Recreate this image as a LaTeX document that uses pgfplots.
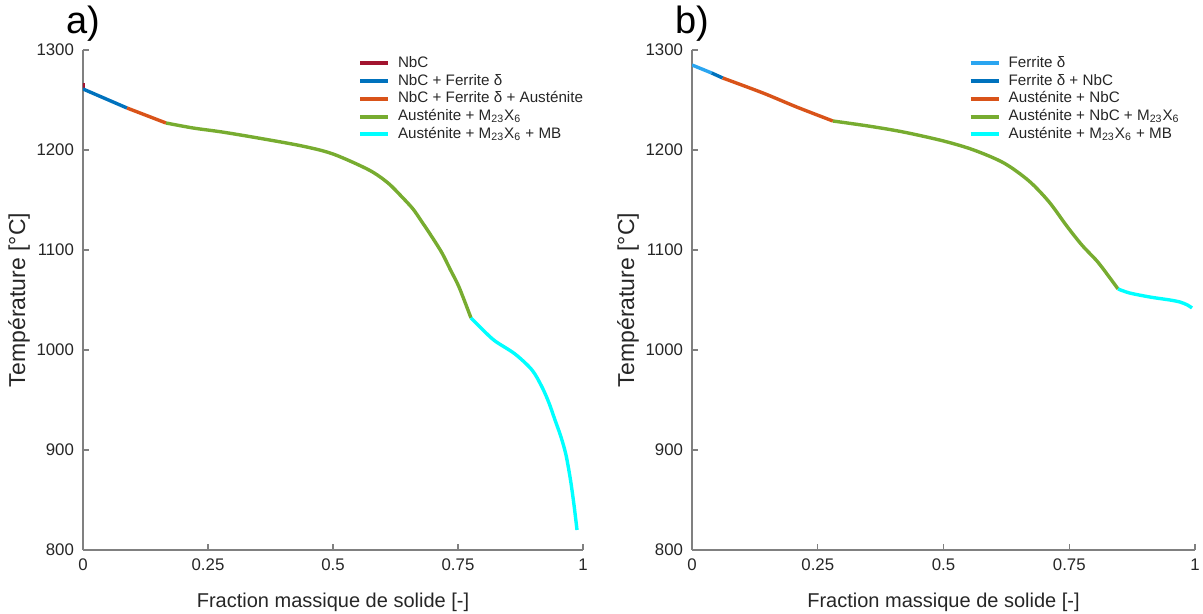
\documentclass[border=0pt]{standalone}
\usepackage{pgfplots}
\pgfplotsset{compat=1.18}
\usepackage{fontspec}
\setmainfont{Liberation Sans}
\definecolor{cNbC}{HTML}{A2142F}
\definecolor{cBlue}{HTML}{0072BD}
\definecolor{cLBlue}{HTML}{2AA5F0}
\definecolor{cOrange}{HTML}{D95319}
\definecolor{cGreen}{HTML}{77AC30}
\definecolor{cCyan}{HTML}{00FFFF}
\definecolor{axgray}{HTML}{808080}
\definecolor{txt}{HTML}{262626}
\pgfplotsset{
  myax/.style={
    scale only axis, width=250pt, height=250pt,
    xmin=0, xmax=1, ymin=800, ymax=1300,
    axis lines=left, axis line style={-, draw=axgray, line width=0.6pt},
    tick align=inside, major tick length=3pt,
    tick style={axgray, line width=0.6pt},
    xtick={0,0.25,0.5,0.75,1}, xticklabels={0,0.25,0.5,0.75,1},
    ytick={800,900,1000,1100,1200,1300},
    yticklabels={800,900,1000,1100,1200,1300},
    /pgf/number format/assume math mode=true,
    /pgf/number format/1000 sep={},
    ticklabel style={font=\fontsize{8.4}{9}\selectfont, text=txt},
    yticklabel style={xshift=-1pt},
    xticklabel style={yshift=-1pt},
    xlabel={Fraction massique de solide [-]},
    ylabel={Température [°C]},
    xlabel style={font=\fontsize{10}{11}\selectfont, text=txt, yshift=-4pt},
    ylabel style={font=\fontsize{11.5}{12}\selectfont, text=txt, yshift=-3.5pt},
    every axis plot/.append style={line width=1.7pt, no marks},
    legend style={draw=none, fill=none, at={(0.55,0.995)}, anchor=north west,
      font=\fontsize{7.6}{8.5}\selectfont, text=txt, row sep=-2.2pt,
      inner sep=0pt, outer sep=0pt, nodes={inner xsep=4pt}},
    legend cell align=left,
    legend image code/.code={\draw[#1, line width=2pt] (0pt,0pt) -- (14pt,0pt);},
  }
}
\begin{document}
\begin{tikzpicture}[x=1pt,y=1pt]
\useasboundingbox (-41.5pt,-32pt) rectangle (560pt,275pt);
\begin{axis}[myax, name=A, at={(0pt,0pt)}, anchor=south west]
\addplot[cNbC] coordinates {(0,1267) (0,1261)};
\addlegendentry{NbC}
\addplot[cBlue] coordinates {(0,1261) (0.088,1242)};
\addlegendentry{NbC + Ferrite δ}
\addplot[cOrange] coordinates {(0.088,1242) (0.166,1227)};
\addlegendentry{NbC + Ferrite δ + Austénite}
\addplot[cGreen, smooth, tension=0.5] coordinates {
(0.166,1227) (0.22,1222) (0.278,1218) (0.35,1212) (0.438,1204) (0.5,1196)
(0.572,1180) (0.61,1167) (0.638,1153) (0.66,1141) (0.678,1128) (0.698,1113)
(0.718,1097) (0.735,1080) (0.752,1063) (0.776,1032)};
\addlegendentry{Austénite + M\textsubscript{23}X\textsubscript{6}}
\addplot[cCyan, smooth, tension=0.5] coordinates {
(0.776,1032) (0.80,1020) (0.824,1009) (0.864,996) (0.898,980) (0.918,963)
(0.932,947) (0.944,930) (0.956,913) (0.966,895) (0.975,870) (0.982,845) (0.988,820)};
\addlegendentry{Austénite + M\textsubscript{23}X\textsubscript{6} + MB}
\end{axis}
\node[font=\fontsize{19}{20}\selectfont, text=black] at (0pt,263pt) {a)};
\begin{axis}[myax, name=B, at={(304.5pt,0pt)}, anchor=south west, width=251.5pt]
\addplot[cLBlue] coordinates {(0,1285) (0.039,1277)};
\addlegendentry{Ferrite δ}
\addplot[cBlue] coordinates {(0.039,1277) (0.061,1272)};
\addlegendentry{Ferrite δ + NbC}
\addplot[cOrange, smooth] coordinates {(0.061,1272) (0.141,1257) (0.208,1243) (0.28,1229)};
\addlegendentry{Austénite + NbC}
\addplot[cGreen, smooth, tension=0.5] coordinates {
(0.28,1229) (0.35,1224) (0.42,1218) (0.5,1209) (0.56,1200) (0.62,1187)
(0.67,1169) (0.71,1148) (0.745,1124) (0.775,1105) (0.805,1089) (0.825,1076) (0.847,1061)};
\addlegendentry{Austénite + NbC + M\textsubscript{23}X\textsubscript{6}}
\addplot[cCyan, smooth, tension=0.5] coordinates {
(0.847,1061) (0.87,1057) (0.91,1053) (0.95,1050) (0.97,1048) (0.985,1045) (0.994,1042)};
\addlegendentry{Austénite + M\textsubscript{23}X\textsubscript{6} + MB}
\end{axis}
\node[font=\fontsize{19}{20}\selectfont, text=black] at (304.5pt,263pt) {b)};
\end{tikzpicture}
\end{document}
